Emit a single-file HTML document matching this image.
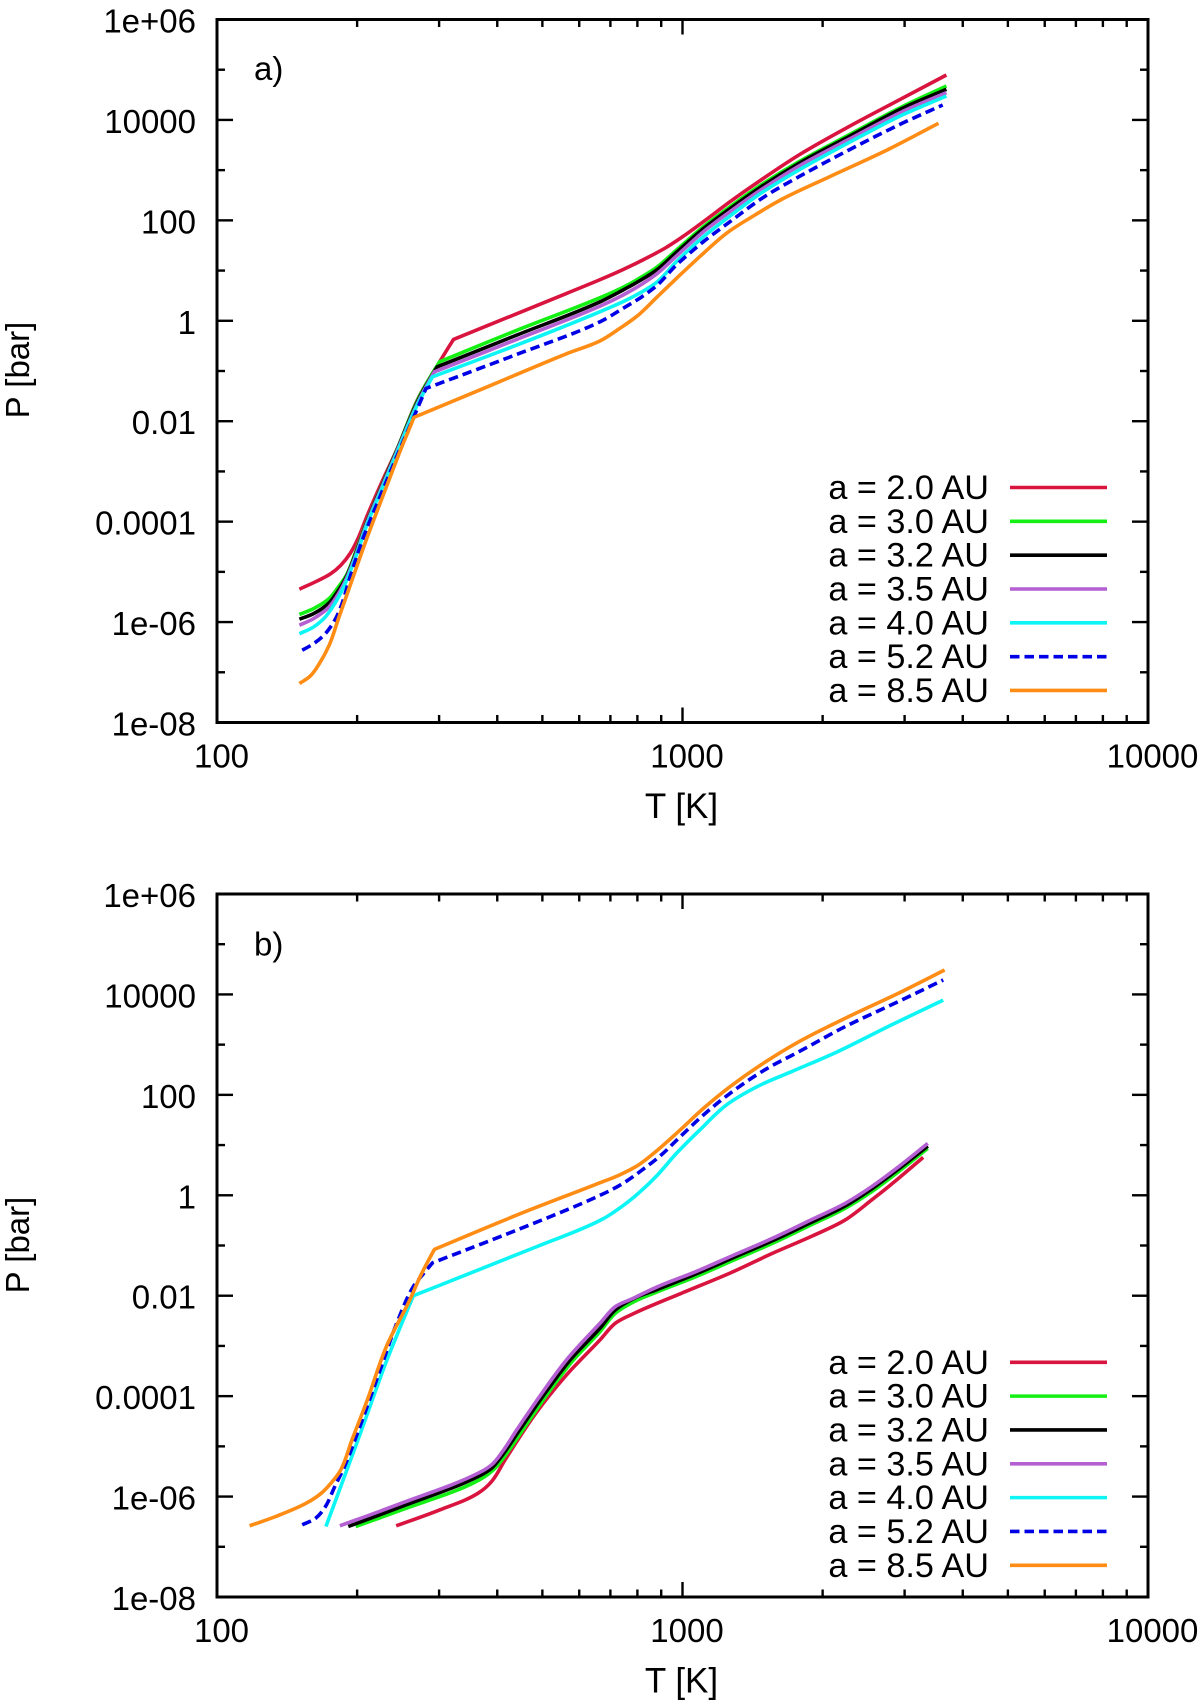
<!DOCTYPE html>
<html lang="en">
<head>
<meta charset="utf-8">
<title>P-T profiles</title>
<style>
html,body{margin:0;padding:0;background:#fff;}
svg{display:block;}
text{font-family:"Liberation Sans",Arial,sans-serif;font-size:33px;fill:#000;}
</style>
</head>
<body>
<svg id="chart" xmlns="http://www.w3.org/2000/svg" width="1200" height="1703" viewBox="0 0 1200 1703"></svg>
<script>
// Axis tick data
const xTickExponents = [2, 3, 4];
const xTickLabels = ['100', '1000', '10000'];
const xMinorMultipliers = [2, 3, 4, 5, 6, 7, 8, 9];
const yTickExponents = [6, 4, 2, 0, -2, -4, -6, -8];
const yTickLabels = ['1e+06', '10000', '100', '1', '0.01', '0.0001', '1e-06', '1e-08'];
const yMinorExponents = [5, 3, 1, -1, -3, -5, -7];
const orbitLabels = ['a = 2.0 AU', 'a = 3.0 AU', 'a = 3.2 AU', 'a = 3.5 AU', 'a = 4.0 AU', 'a = 5.2 AU', 'a = 8.5 AU'];

// Panel a: log10(T [K]) and log10(P [bar])
const a20LogT = [2.177,2.216,2.245,2.266,2.286,2.303,2.323,2.356,2.389,2.432,2.476,2.508,2.751,2.823,2.872,2.921,2.963,2.995,3.045,3.102,3.160,3.250,3.357,3.472,3.567];
const a20LogP = [-5.345,-5.179,-5.033,-4.867,-4.634,-4.335,-3.871,-3.173,-2.509,-1.546,-0.850,-0.371,0.545,0.820,1.020,1.240,1.450,1.641,1.973,2.371,2.750,3.301,3.865,4.430,4.894];
const a30LogT = [2.177,2.208,2.241,2.261,2.278,2.298,2.323,2.356,2.389,2.434,2.478,2.644,2.823,2.872,2.913,2.946,2.987,3.045,3.102,3.168,3.250,3.357,3.472,3.567];
const a30LogP = [-5.849,-5.730,-5.531,-5.298,-5.066,-4.601,-3.970,-3.240,-2.509,-1.520,-0.816,-0.190,0.459,0.665,0.877,1.076,1.408,1.873,2.272,2.703,3.168,3.699,4.264,4.675];
const a32LogT = [2.177,2.208,2.241,2.261,2.278,2.298,2.323,2.356,2.389,2.434,2.473,2.644,2.823,2.872,2.913,2.946,2.987,3.045,3.102,3.168,3.250,3.357,3.472,3.567];
const a32LogP = [-5.942,-5.829,-5.617,-5.365,-5.099,-4.634,-3.984,-3.253,-2.522,-1.547,-0.916,-0.285,0.379,0.612,0.824,1.023,1.362,1.833,2.232,2.663,3.135,3.666,4.230,4.609];
const a35LogT = [2.177,2.208,2.241,2.261,2.278,2.298,2.323,2.356,2.389,2.434,2.467,2.644,2.823,2.872,2.913,2.946,2.987,3.045,3.102,3.168,3.250,3.357,3.472,3.567];
const a35LogP = [-6.062,-5.929,-5.697,-5.431,-5.132,-4.667,-4.003,-3.273,-2.543,-1.580,-1.015,-0.371,0.293,0.512,0.731,0.944,1.289,1.774,2.172,2.604,3.082,3.613,4.164,4.542];
const a40LogT = [2.177,2.208,2.233,2.253,2.274,2.298,2.323,2.356,2.389,2.430,2.463,2.644,2.823,2.872,2.913,2.946,2.987,3.045,3.102,3.168,3.250,3.357,3.472,3.567];
const a40LogP = [-6.234,-6.095,-5.896,-5.630,-5.265,-4.701,-4.036,-3.306,-2.576,-1.679,-1.115,-0.484,0.180,0.379,0.578,0.778,1.176,1.674,2.086,2.537,3.002,3.546,4.098,4.476];
const a52LogT = [2.183,2.208,2.233,2.253,2.266,2.286,2.315,2.356,2.389,2.426,2.449,2.644,2.823,2.872,2.913,2.946,2.987,3.045,3.102,3.176,3.250,3.357,3.472,3.559];
const a52LogP = [-6.560,-6.427,-6.228,-5.962,-5.697,-5.099,-4.302,-3.373,-2.642,-1.845,-1.347,-0.670,-0.019,0.246,0.479,0.711,1.110,1.574,1.973,2.471,2.869,3.400,3.932,4.297];
const a85LogT = [2.177,2.200,2.220,2.241,2.261,2.290,2.323,2.364,2.397,2.412,2.423,2.586,2.750,2.823,2.864,2.905,2.946,2.987,3.037,3.094,3.152,3.217,3.316,3.439,3.550];
const a85LogP = [-7.224,-7.078,-6.826,-6.460,-5.929,-5.165,-4.302,-3.306,-2.509,-2.177,-1.925,-1.294,-0.660,-0.400,-0.160,0.114,0.479,0.844,1.276,1.740,2.086,2.438,2.869,3.400,3.932];

// Panel b: log10(T [K]) and log10(P [bar])
const b20LogT = [2.385,2.479,2.561,2.590,2.619,2.685,2.751,2.823,2.856,2.897,2.995,3.102,3.193,3.275,3.349,3.406,3.464,3.517];
const b20LogP = [-6.583,-6.264,-5.932,-5.700,-5.268,-4.339,-3.575,-2.878,-2.546,-2.347,-1.961,-1.550,-1.158,-0.826,-0.494,-0.096,0.336,0.754];
const b30LogT = [2.298,2.397,2.561,2.594,2.615,2.652,2.701,2.763,2.823,2.856,2.897,2.946,3.028,3.110,3.193,3.275,3.349,3.406,3.464,3.527];
const b30LogP = [-6.596,-6.264,-5.680,-5.467,-5.235,-4.737,-4.073,-3.309,-2.712,-2.347,-2.114,-1.922,-1.623,-1.291,-0.959,-0.594,-0.262,0.070,0.469,0.934];
const b32LogT = [2.282,2.397,2.561,2.590,2.611,2.648,2.697,2.759,2.823,2.856,2.897,2.946,3.028,3.110,3.193,3.275,3.349,3.406,3.464,3.527];
const b32LogP = [-6.596,-6.198,-5.600,-5.434,-5.202,-4.704,-4.040,-3.276,-2.645,-2.280,-2.048,-1.875,-1.570,-1.238,-0.906,-0.547,-0.215,0.124,0.522,0.980];
const b35LogT = [2.264,2.397,2.561,2.590,2.611,2.644,2.693,2.751,2.823,2.856,2.889,2.946,3.028,3.110,3.193,3.275,3.349,3.406,3.464,3.527];
const b35LogP = [-6.583,-6.131,-5.534,-5.368,-5.135,-4.671,-4.007,-3.276,-2.546,-2.214,-2.074,-1.822,-1.523,-1.191,-0.859,-0.494,-0.162,0.170,0.568,1.033];
const b40LogT = [2.234,2.303,2.364,2.422,2.520,2.685,2.823,2.864,2.905,2.946,2.987,3.037,3.094,3.160,3.234,3.333,3.448,3.560];
const b40LogP = [-6.596,-4.870,-3.309,-2.000,-1.640,-1.030,-0.500,-0.262,0.037,0.402,0.834,1.299,1.797,2.162,2.461,2.859,3.390,3.888];
const b52LogT = [2.183,2.212,2.233,2.253,2.274,2.307,2.348,2.389,2.422,2.438,2.463,2.644,2.823,2.872,2.913,2.954,2.995,3.045,3.102,3.176,3.250,3.349,3.448,3.560];
const b52LogP = [-6.563,-6.430,-6.198,-5.800,-5.401,-4.604,-3.542,-2.479,-1.815,-1.623,-1.344,-0.693,0.000,0.236,0.502,0.801,1.166,1.598,2.029,2.494,2.859,3.357,3.789,4.287];
const b85LogT = [2.070,2.126,2.192,2.224,2.245,2.266,2.290,2.323,2.364,2.414,2.438,2.467,2.644,2.823,2.864,2.905,2.938,2.987,3.045,3.102,3.168,3.250,3.349,3.456,3.563];
const b85LogP = [-6.583,-6.397,-6.131,-5.932,-5.733,-5.467,-4.870,-4.073,-3.011,-2.088,-1.590,-1.078,-0.394,0.250,0.402,0.602,0.834,1.232,1.730,2.162,2.594,3.058,3.523,3.988,4.486];

const seriesColors = ['#d8143f', '#14f014', '#000000', '#b45fd2', '#0df5f5', '#0000e6', '#ff8c14'];
const seriesKeys = ['2-0-au', '3-0-au', '3-2-au', '3-5-au', '4-0-au', '5-2-au', '8-5-au'];
const panelATemps = [a20LogT, a30LogT, a32LogT, a35LogT, a40LogT, a52LogT, a85LogT];
const panelAPress = [a20LogP, a30LogP, a32LogP, a35LogP, a40LogP, a52LogP, a85LogP];
const panelBTemps = [b20LogT, b30LogT, b32LogT, b35LogT, b40LogT, b52LogT, b85LogT];
const panelBPress = [b20LogP, b30LogP, b32LogP, b35LogP, b40LogP, b52LogP, b85LogP];

const NS = 'http://www.w3.org/2000/svg';
const root = document.getElementById('chart');
const PLOT_LEFT = 217, PLOT_RIGHT = 1148, PLOT_H = 703;

function xScale(logT) { return PLOT_LEFT + (logT - 2) / 2 * (PLOT_RIGHT - PLOT_LEFT); }
function yScale(logP, top) { return top + (6 - logP) / 14 * PLOT_H; }

function make(parent, tag, attrs) {
  const el = document.createElementNS(NS, tag);
  for (const k in attrs) el.setAttribute(k, attrs[k]);
  parent.appendChild(el);
  return el;
}
function tickLine(parent, x1, y1, x2, y2, name) {
  const el = make(parent, 'line', {x1: x1, y1: y1, x2: x2, y2: y2, stroke: '#000', 'stroke-width': 2.4});
  
  
  return el;
}
function label(parent, x, y, str, anchor, name) {
  const el = make(parent, 'text', {x: x, y: y, 'text-anchor': anchor});
  el.textContent = str;
  
  
  return el;
}

// Smooth curve through the points; sharp bends stay as corners.
function smoothPath(p) {
  const n = p.length;
  const dir = [];
  const corner = [];
  function unit(a, b) {
    const dx = b[0] - a[0], dy = b[1] - a[1];
    const L = Math.hypot(dx, dy) || 1;
    return [dx / L, dy / L];
  }
  for (let i = 0; i < n; i++) {
    if (i === 0) { dir.push(unit(p[0], p[1])); corner.push(false); continue; }
    if (i === n - 1) { dir.push(unit(p[n - 2], p[n - 1])); corner.push(false); continue; }
    const a = unit(p[i - 1], p[i]);
    const b = unit(p[i], p[i + 1]);
    const cos = a[0] * b[0] + a[1] * b[1];
    corner.push(cos < Math.cos(28 * Math.PI / 180));
    const s = [a[0] + b[0], a[1] + b[1]];
    const L = Math.hypot(s[0], s[1]) || 1;
    dir.push([s[0] / L, s[1] / L]);
  }
  let d = 'M' + p[0][0].toFixed(1) + ' ' + p[0][1].toFixed(1);
  for (let i = 0; i < n - 1; i++) {
    const L = Math.hypot(p[i + 1][0] - p[i][0], p[i + 1][1] - p[i][1]) / 3;
    const c1 = corner[i] ? p[i] : [p[i][0] + dir[i][0] * L, p[i][1] + dir[i][1] * L];
    const c2 = corner[i + 1] ? p[i + 1] : [p[i + 1][0] - dir[i + 1][0] * L, p[i + 1][1] - dir[i + 1][1] * L];
    d += 'C' + c1[0].toFixed(1) + ' ' + c1[1].toFixed(1) + ' ' + c2[0].toFixed(1) + ' ' + c2[1].toFixed(1) + ' ' + p[i + 1][0].toFixed(1) + ' ' + p[i + 1][1].toFixed(1);
  }
  return d;
}

function drawPanel(id, top, letter, letterY, ylabelY, temps, press, legendY) {
  const bottom = top + PLOT_H;
  const g = make(root, 'g', {});
  
  

  // x ticks
  xTickExponents.forEach(function (e, i) {
    const x = xScale(e);
    if (i > 0 && i < xTickExponents.length - 1) {
      tickLine(g, x, bottom, x, bottom - 15, 'x-major-tick');
      tickLine(g, x, top, x, top + 15, 'x-major-tick-top');
    }
    label(g, x + 4.5, bottom + 45, xTickLabels[i], 'middle', 'x-tick-label');
    if (i < xTickExponents.length - 1) {
      xMinorMultipliers.forEach(function (m) {
        const mx = xScale(e + Math.log10(m));
        tickLine(g, mx, bottom, mx, bottom - 7.5, 'x-minor-tick');
        tickLine(g, mx, top, mx, top + 7.5, 'x-minor-tick-top');
      });
    }
  });
  // y ticks
  yTickExponents.forEach(function (e, i) {
    const y = yScale(e, top);
    if (i > 0 && i < yTickExponents.length - 1) {
      tickLine(g, PLOT_LEFT, y, PLOT_LEFT + 16, y, 'y-major-tick');
      tickLine(g, PLOT_RIGHT, y, PLOT_RIGHT - 16, y, 'y-major-tick-right');
    }
    label(g, 196, y + 13, yTickLabels[i], 'end', 'y-tick-label');
  });
  yMinorExponents.forEach(function (e) {
    const y = yScale(e, top);
    tickLine(g, PLOT_LEFT, y, PLOT_LEFT + 8, y, 'y-minor-tick');
    tickLine(g, PLOT_RIGHT, y, PLOT_RIGHT - 8, y, 'y-minor-tick-right');
  });

  // axis titles and panel letter
  const xt = label(g, 681.5, bottom + 95.5, 'T [K]', 'middle', 'x-axis-title');
  xt.setAttribute('style', 'font-size:35px');
  const yt = label(g, 29, ylabelY, 'P [bar]', 'middle', 'y-axis-title');
  yt.setAttribute('transform', 'rotate(-90 29 ' + ylabelY + ')');
  label(g, 254, letterY, letter, 'start', 'panel-label');

  // series
  temps.forEach(function (ts, s) {
    const ps = press[s];
    const pts = ts.map(function (t, i) { return [xScale(t), yScale(ps[i], top)]; });
    const line = make(g, 'path', {d: smoothPath(pts), fill: 'none', stroke: seriesColors[s], 'stroke-width': 3.6, 'stroke-linejoin': 'round'});
    if (s === 5) line.setAttribute('stroke-dasharray', '9.5 5');
    
    
  });

  // legend
  const lg = make(g, 'g', {});
  
  
  orbitLabels.forEach(function (txt, s) {
    const y = legendY + s * 33.83;
    const t = label(lg, 989, y + 11.5, txt, 'end', 'legend-label');
    t.setAttribute('style', 'font-size:34.2px');
    const k = make(lg, 'line', {x1: 1010, y1: y, x2: 1107, y2: y, stroke: seriesColors[s], 'stroke-width': 3.6});
    if (s === 5) k.setAttribute('stroke-dasharray', '9.5 5');
    
    
  });

  // frame
  const frame = make(g, 'rect', {x: PLOT_LEFT, y: top, width: PLOT_RIGHT - PLOT_LEFT, height: PLOT_H, fill: 'none', stroke: '#000', 'stroke-width': 3});
  
  
}

drawPanel('a', 19.5, 'a)', 80, 370, panelATemps, panelAPress, 487.5);
drawPanel('b', 894, 'b)', 955.5, 1245, panelBTemps, panelBPress, 1362.3);
</script>
</body>
</html>
